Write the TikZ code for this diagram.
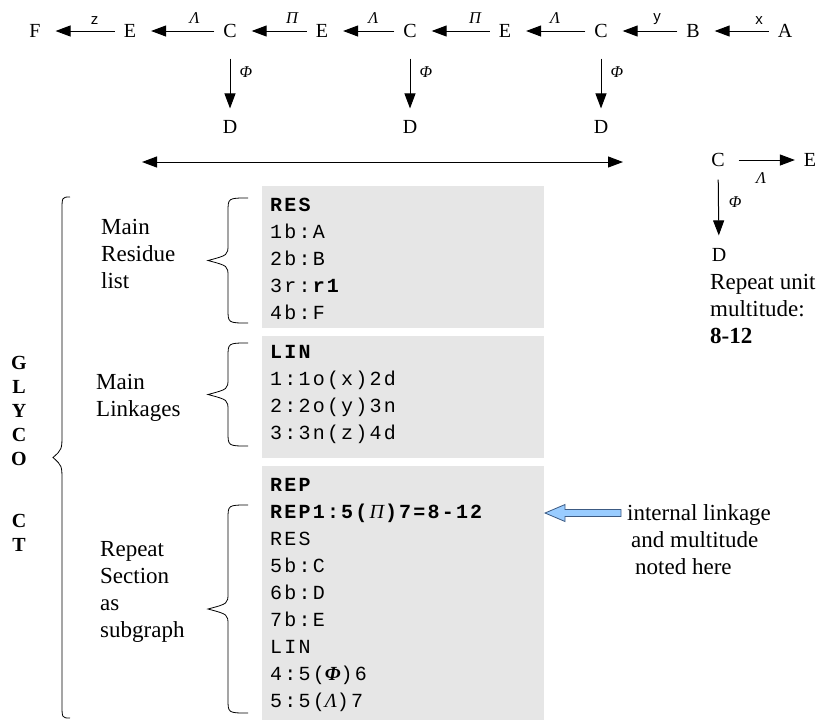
\documentclass[tikz,border=0pt]{standalone}
\usepackage{fontspec}
\setmainfont{Liberation Serif}
\setsansfont{Liberation Sans}
\setmonofont{Liberation Mono}
\newfontfamily\codefont[LetterSpace=11]{Liberation Mono}
\usetikzlibrary{arrows.meta}
\definecolor{boxgray}{RGB}{230,230,230}
\definecolor{arrowfill}{RGB}{153,204,255}
\definecolor{arrowline}{RGB}{60,90,130}
\newcommand{\gk}[1]{{\rmfamily\itshape\mdseries #1}}
% left curly brace: right x, stem x, tip x, top y, bottom y, tip half length
\def\leftbrace(#1:#2:#3:#4:#5:#6){\draw[line width=0.8pt] (#1,#4) .. controls (#2,#4) .. (#2,#4+14) -- (#2,{(#4+#5)/2-#6}) .. controls (#2,{(#4+#5)/2-#6/3}) .. (#3,{(#4+#5)/2}) .. controls (#2,{(#4+#5)/2+#6/3}) .. (#2,{(#4+#5)/2+#6}) -- (#2,#5-14) .. controls (#2,#5) .. (#1,#5);}

\begin{document}
\begin{tikzpicture}[x=1pt, y=-1pt,
	res/.style={font=\fontsize{20}{22}\selectfont, inner sep=0pt, outer sep=0pt},
	link/.style={line width=1pt, -{Triangle[length=15pt,width=11pt]}, shorten <=9pt, shorten >=15pt},
	vlink/.style={line width=1pt, -{Triangle[length=15pt,width=11pt]}, shorten <=21pt, shorten >=12pt},
	lnk/.style={font=\fontsize{16.5}{18}\selectfont\itshape, inner sep=1pt},
	sym/.style={font=\fontsize{15}{16}\selectfont\sffamily, inner sep=1pt},
	code/.style={font=\fontsize{20}{27}\selectfont\codefont, align=left, inner sep=0pt, anchor=north west},
	note/.style={font=\fontsize{23}{27}\selectfont, align=left, inner sep=0pt, anchor=north west}]
	%%%%% START %%%%%
	
	\useasboundingbox (0,0) rectangle (832,724);
	
	% main chain
	\node[res] (F) at (35,31) {F};
	\node[res] (E1) at (130,31) {E};
	\node[res] (C1) at (230,31) {C};
	\node[res] (E2) at (322,31) {E};
	\node[res] (C2) at (410,31) {C};
	\node[res] (E3) at (505,31) {E};
	\node[res] (C3) at (601,31) {C};
	\node[res] (B) at (693,31) {B};
	\node[res] (A) at (785,31) {A};
	
	\node[res] (D1) at (230,127) {D};
	\node[res] (D2) at (410,127) {D};
	\node[res] (D3) at (601,127) {D};
	
	\draw[link] (E1) -- node[sym, above=5pt, pos=0.35] {z} (F);
	\draw[link] (C1) -- node[lnk, above=6pt, pos=0.33] {Λ} (E1);
	\draw[link] (E2) -- node[lnk, above=6pt, pos=0.30] {Π} (C1);
	\draw[link] (C2) -- node[lnk, above=6pt, pos=0.40] {Λ} (E2);
	\draw[link] (E3) -- node[lnk, above=6pt, pos=0.29] {Π} (C2);
	\draw[link] (C3) -- node[lnk, above=6pt, pos=0.47] {Λ} (E3);
	\draw[link] (B) -- node[sym, above=5pt, pos=0.37] {y} (C3);
	\draw[link] (A) -- node[sym, above=5pt, pos=0.24] {x} (B);
	
	\draw[vlink] (C1) -- node[lnk, right=8pt, pos=0.41] {Φ} (D1);
	\draw[vlink] (C2) -- node[lnk, right=8pt, pos=0.41] {Φ} (D2);
	\draw[vlink] (C3) -- node[lnk, right=8pt, pos=0.41] {Φ} (D3);
	
	% repeat span
	\coordinate (spanl) at (142,162);
	\coordinate (spanr) at (623,162);
	\draw[line width=1pt, {Triangle[length=15pt,width=11pt]}-{Triangle[length=15pt,width=11pt]}] (spanl) -- (spanr);
	
	% repeat unit
	\node[res] (C4) at (718,160) {C};
	\node[res] (E4) at (810,160) {E};
	\node[res] (D4) at (719,255) {D};
	\draw[link, shorten <=14pt, shorten >=9pt] (C4) -- node[lnk, below=11pt, pos=0.46] {Λ} (E4);
	\draw[link, shorten <=13pt, shorten >=13pt] (C4) -- node[lnk, right=9pt, pos=0.43] {Φ} (D4);
	\node[note] (unitnote) at (710,274) {Repeat unit\\multitude:\\\textbf{8-12}};
	
	% GlycoCT boxes
	\fill[boxgray] (262,186) rectangle (544,328);
	\fill[boxgray] (262,336) rectangle (544,458);
	\fill[boxgray] (262,466) rectangle (544,720);
	
	\node[code] (reslist) at (270,198) {\textbf{RES}\\1b:A\\2b:B\\3r:\textbf{r1}\\4b:F};
	\node[code] (linlist) at (270,345) {\textbf{LIN}\\1:1o(x)2d\\2:2o(y)3n\\3:3n(z)4d};
	\node[code] (replist) at (270,478) {\textbf{REP}\\\textbf{REP1:5(}\gk{Π}\textbf{)7=8-12}\\RES\\5b:C\\6b:D\\7b:E\\LIN\\4:5(\gk{\bfseries Φ})6\\5:5(\gk{Λ})7};
	
	% braces
	\leftbrace(248:228:208:198:323:16)
	\leftbrace(248:228:208:343:446:16)
	\leftbrace(248:228:208:505:713:16)
	\leftbrace(70:62:53:197:718:24)
	
	\node[note] (mainres) at (101,219) {Main\\Residue\\list};
	\node[note] (mainlin) at (96,374) {Main\\Linkages};
	\node[note] (repsec) at (100,541) {Repeat\\Section\\as\\subgraph};
	\node[font=\fontsize{20}{24}\selectfont\bfseries, align=center, inner sep=0pt, anchor=north] (glyco) at (19,356.5) {G\\L\\Y\\C\\O\\[38pt]C\\T};
	
	% pointer
	\draw[fill=arrowfill, draw=arrowline, line width=0.8pt] (545,513) -- (565,504.5) -- (565,509.5) -- (621,509.5) -- (621,516.5) -- (565,516.5) -- (565,521.5) -- cycle;
	\node[note] (pointnote) at (627,504) {internal linkage\\\hspace{4pt}and multitude\\\hspace{8pt}noted here};
	
	%%%%% END %%%%%
\end{tikzpicture}
\end{document}
